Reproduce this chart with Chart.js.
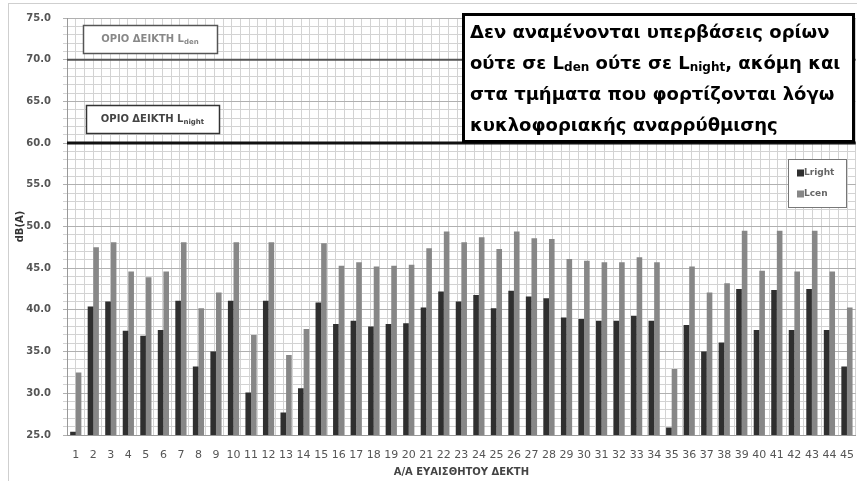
<!DOCTYPE html>
<html>
<head>
<meta charset="utf-8">
<script src="https://cdn.jsdelivr.net/npm/chart.js@4/dist/chart.umd.min.js"></script>
<style>
  html, body { margin: 0; padding: 0; background: #fff; overflow: hidden; }
  #wrap { width: 860px; height: 481px; }
</style>
</head>
<body>
<div id="wrap"><canvas id="myChart" width="860" height="481"></canvas></div>
<script>
// receivers (x axis)
var categories = ['1','2','3','4','5','6','7','8','9','10','11','12','13','14','15',
    '16','17','18','19','20','21','22','23','24','25','26','27','28','29','30',
    '31','32','33','34','35','36','37','38','39','40','41','42','43','44','45'];

// dB(A) values
var lnight = [25.4, 40.4, 41.0, 37.5, 36.9, 37.6, 41.1, 33.2, 35.0, 41.1,
    30.1, 41.1, 27.7, 30.6, 40.9, 38.3, 38.7, 38.0, 38.3, 38.4,
    40.3, 42.2, 41.0, 41.8, 40.2, 42.3, 41.6, 41.4, 39.1, 38.9,
    38.7, 38.7, 39.3, 38.7, 25.9, 38.2, 35.0, 36.1, 42.5, 37.6,
    42.4, 37.6, 42.5, 37.6, 33.2];
var lden = [32.5, 47.5, 48.1, 44.6, 43.9, 44.6, 48.1, 40.2, 42.1, 48.1,
    37.0, 48.1, 34.6, 37.7, 48.0, 45.3, 45.7, 45.2, 45.3, 45.4,
    47.4, 49.4, 48.1, 48.7, 47.3, 49.4, 48.6, 48.5, 46.1, 45.9,
    45.7, 45.7, 46.3, 45.7, 32.9, 45.2, 42.1, 43.2, 49.5, 44.7,
    49.5, 44.6, 49.5, 44.6, 40.3];

var seriesNames = ['Lright', 'Lcen'];

// limit values
var limitLden = 70;
var limitLnight = 60;
var limitLabels = ['ΟΡΙΟ ΔΕΙΚΤΗ L', 'ΟΡΙΟ ΔΕΙΚΤΗ L'];
var limitSubs = ['den', 'night'];

var yTitle = 'dB(A)';
var xTitle = 'Α/Α ΕΥΑΙΣΘΗΤΟΥ ΔΕΚΤΗ';

// the note box, each line is a list of [text, isSubscript]
var noteLines = [
    [['Δεν αναμένονται υπερβάσεις ορίων', false]],
    [['ούτε σε L', false], ['den', true], [' ούτε σε L', false], ['night', true], [', ακόμη και', false]],
    [['στα τμήματα που φορτίζονται λόγω', false]],
    [['κυκλοφοριακής αναρρύθμισης', false]]
];

var FONT = '"DejaVu Sans", sans-serif';

function drawRich(ctx, parts, x, y, size, subSize) {
    parts.forEach(function(p){
        if (p[1]) {
            ctx.font = 'bold ' + subSize + 'px ' + FONT;
            ctx.fillText(p[0], x, y + 4);
        } else {
            ctx.font = 'bold ' + size + 'px ' + FONT;
            ctx.fillText(p[0], x, y);
        }
        x += ctx.measureText(p[0]).width;
    });
}

var extras = {
    id: 'extras',
    beforeDraw: function(chart){
        var ctx = chart.ctx;
        ctx.save();
        ctx.fillStyle = '#fff';
        ctx.fillRect(0, 0, chart.width, chart.height);
        ctx.strokeStyle = '#cfcfcf';
        ctx.lineWidth = 1;
        ctx.strokeRect(8.5, 3.5, chart.width + 10, chart.height + 10);
        ctx.restore();
    },
    beforeDatasetsDraw: function(chart){
        var ctx = chart.ctx, a = chart.chartArea, y = chart.scales.y;
        ctx.save();
        var y70 = y.getPixelForValue(limitLden);
        ctx.strokeStyle = '#555';
        ctx.lineWidth = 2;
        ctx.beginPath(); ctx.moveTo(a.left, y70); ctx.lineTo(a.right, y70); ctx.stroke();
        var y60 = y.getPixelForValue(limitLnight);
        ctx.strokeStyle = '#111';
        ctx.lineWidth = 3;
        ctx.beginPath(); ctx.moveTo(a.left, y60); ctx.lineTo(a.right, y60); ctx.stroke();
        ctx.restore();
    },
    afterDraw: function(chart){
        var ctx = chart.ctx;
        ctx.save();

        // limit boxes
        var boxes = [[83, 25, 134, 28, '#888', '#555'], [86, 105, 133, 28, '#444', '#333']];
        boxes.forEach(function(b, i){
            ctx.fillStyle = '#fff';
            ctx.fillRect(b[0], b[1], b[2], b[3]);
            ctx.strokeStyle = b[5];
            ctx.lineWidth = 1.5;
            ctx.strokeRect(b[0] + 0.5, b[1] + 0.5, b[2], b[3]);
            ctx.fillStyle = b[4];
            ctx.textBaseline = 'middle';
            ctx.textAlign = 'left';
            ctx.font = 'bold 10px ' + FONT;
            var w1 = ctx.measureText(limitLabels[i]).width;
            ctx.font = 'bold 7px ' + FONT;
            var w2 = ctx.measureText(limitSubs[i]).width;
            var x0 = b[0] + (b[2] - w1 - w2) / 2;
            ctx.font = 'bold 10px ' + FONT;
            ctx.fillText(limitLabels[i], x0, b[1] + b[3] / 2);
            ctx.font = 'bold 7px ' + FONT;
            ctx.fillText(limitSubs[i], x0 + w1, b[1] + b[3] / 2 + 3);
        });

        // note box
        ctx.fillStyle = '#fff';
        ctx.fillRect(462, 13, 393, 130);
        ctx.strokeStyle = '#000';
        ctx.lineWidth = 3;
        ctx.strokeRect(463.5, 14.5, 390, 127);
        ctx.fillStyle = '#000';
        ctx.textBaseline = 'middle';
        ctx.textAlign = 'left';
        noteLines.forEach(function(line, i){
            drawRich(ctx, line, 470, 33 + i * 31, 18, 12);
        });

        // legend
        ctx.fillStyle = '#fff';
        ctx.fillRect(788, 159, 58, 48);
        ctx.strokeStyle = '#777';
        ctx.lineWidth = 1;
        ctx.strokeRect(788.5, 159.5, 58, 48);
        chart.data.datasets.forEach(function(ds, i){
            var yy = 173 + i * 21;
            ctx.fillStyle = ds.backgroundColor;
            ctx.fillRect(797, yy - 3.5, 7, 7);
            ctx.fillStyle = '#666';
            ctx.font = 'bold 9px ' + FONT;
            ctx.textBaseline = 'middle';
            ctx.fillText(ds.label, 804, yy);
        });
        ctx.restore();
    }
};

var ctx = document.getElementById('myChart').getContext('2d');
var myChart = new Chart(ctx, {
    type: 'bar',
    data: {
        labels: categories,
        datasets: [
            { label: seriesNames[0], data: lnight, backgroundColor: '#2f2f2f', xAxisID: 'x', yAxisID: 'y' },
            { label: seriesNames[1], data: lden, backgroundColor: '#878787', xAxisID: 'x', yAxisID: 'y' }
        ]
    },
    options: {
        responsive: false,
        animation: false,
        layout: { padding: { left: 0, right: 0, top: 18, bottom: 0 } },
        datasets: { bar: { categoryPercentage: 0.64, barPercentage: 1.0 } },
        plugins: { legend: { display: false }, tooltip: { enabled: false } },
        scales: {
            x: {
                type: 'category',
                position: 'bottom',
                grid: { display: false },
                border: { display: true, color: '#999' },
                ticks: { color: '#555', font: { family: FONT, size: 11 }, autoSkip: false, maxRotation: 0, padding: 6 },
                title: { display: true, text: xTitle, color: '#444', font: { family: FONT, size: 10, weight: 'bold' }, padding: { top: 2, bottom: 3 } },
                afterFit: function(s){ s.height = 46; }
            },
            xg: {
                type: 'linear',
                position: 'top',
                min: -0.5,
                max: 44.5,
                ticks: { display: false, stepSize: 0.5 },
                grid: { color: '#d3d3d3', drawTicks: false },
                border: { display: false },
                afterFit: function(s){ s.height = 0; }
            },
            y: {
                min: 25,
                max: 75,
                ticks: {
                    stepSize: 1,
                    autoSkip: false,
                    padding: 12,
                    color: '#555',
                    font: { family: FONT, size: 10, weight: 'bold' },
                    callback: function(v){ return v % 5 === 0 ? v.toFixed(1) : ''; }
                },
                grid: {
                    color: function(c){ return c.tick && c.tick.value % 5 === 0 ? '#b0b0b0' : '#d3d3d3'; },
                    tickLength: 4
                },
                border: { display: true, color: '#999' },
                title: { display: true, text: yTitle, color: '#333', font: { family: FONT, size: 10, weight: 'bold' }, padding: { top: 14, bottom: 0 } },
                afterFit: function(s){ s.width = 67; }
            }
        }
    },
    plugins: [extras]
});
</script>
</body>
</html>
